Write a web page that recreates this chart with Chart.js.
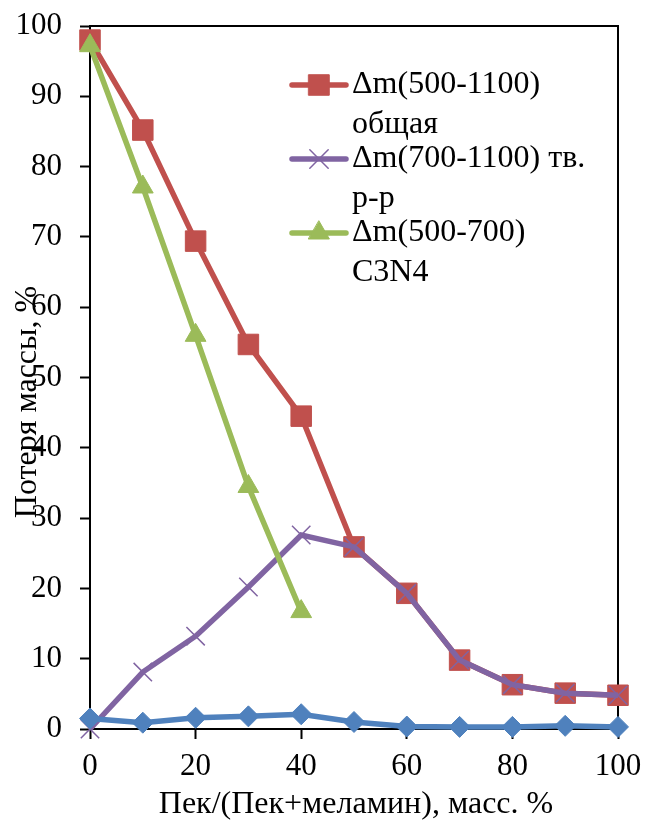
<!DOCTYPE html>
<html>
<head>
<meta charset="utf-8">
<script src="https://cdn.jsdelivr.net/npm/chart.js"></script>
<style>
  html, body { margin: 0; padding: 0; background: #fff; }
</style>
</head>
<body>
<canvas id="massChart" width="646" height="829"></canvas>
<script>
// pitch share in the pitch+melamine blend, mass %
const pitchShare = [0, 10, 20, 30, 40, 50, 60, 70, 80, 90, 100];
const totalLoss = [98, 85.2, 69.4, 54.7, 44.5, 25.9, 19.3, 9.8, 6.3, 5.1, 4.8];
const solidLoss = [0, 8.1, 13.2, 20.2, 27.6, 25.9, 19.3, 9.8, 6.3, 5.1, 4.8];
const c3n4Loss = [97.2, 77.1, 56, 34.5, 16.7];
const lowLoss = [1.5, 0.9, 1.6, 1.8, 2.1, 1.0, 0.35, 0.3, 0.3, 0.45, 0.3];

const seriesLabels = [
  ["Δm(500-1100)", "общая"],
  ["Δm(700-1100) тв.", "р-р"],
  ["Δm(500-700)", "C3N4"],
];
const xTitle = "Пек/(Пек+меламин), масс. %";
const yTitle = "Потеря массы, %";

const serif = "'Liberation Serif', 'Times New Roman', serif";
const toPoints = (vals) => vals.map((v, i) => ({ x: pitchShare[i], y: v }));

const datasets = [
  {
    label: seriesLabels[0].join(" "),
    data: toPoints(totalLoss),
    borderColor: "#C0504D",
    backgroundColor: "#C0504D",
    pointStyle: "rect",
    pointRadius: 14.5,
    pointBorderWidth: 1,
    order: 4,
  },
  {
    label: seriesLabels[1].join(" "),
    data: toPoints(solidLoss),
    borderColor: "#8064A2",
    backgroundColor: "#8064A2",
    pointStyle: "crossRot",
    pointRadius: 13,
    pointBorderWidth: 1.5,
    order: 3,
  },
  {
    label: seriesLabels[2].join(" "),
    data: toPoints(c3n4Loss),
    borderColor: "#9BBB59",
    backgroundColor: "#9BBB59",
    pointStyle: "triangle",
    pointRadius: 12,
    pointBorderWidth: 1,
    order: 2,
  },
  {
    label: "",
    data: toPoints(lowLoss),
    borderColor: "#4F81BD",
    backgroundColor: "#4F81BD",
    pointStyle: "rectRot",
    pointRadius: 10.5,
    pointBorderWidth: 1,
    order: 1,
  },
];
datasets.forEach((d) => {
  d.borderWidth = 5.5;
  d.tension = 0;
  d.clip = false;
  d.fill = false;
});

// top/right frame, axis titles and the in-plot legend
const decorations = {
  id: "decorations",
  beforeDatasetsDraw(chart) {
    const { ctx, chartArea: a } = chart;
    ctx.save();
    ctx.strokeStyle = "#000";
    ctx.lineWidth = 2;
    ctx.beginPath();
    ctx.moveTo(a.left, a.top);
    ctx.lineTo(a.right, a.top);
    ctx.lineTo(a.right, a.bottom);
    ctx.stroke();
    ctx.restore();
  },
  afterDraw(chart) {
    const { ctx } = chart;
    ctx.save();
    ctx.fillStyle = "#000";
    ctx.font = "32px " + serif;
    ctx.textAlign = "center";
    ctx.textBaseline = "middle";
    ctx.fillText(xTitle, 356, 805);

    ctx.save();
    ctx.translate(28, 402);
    ctx.rotate(-Math.PI / 2);
    ctx.fillText(yTitle, 0, 0);
    ctx.restore();

    // legend entries
    const lx0 = 292, lx1 = 346, tx = 352;
    const rowY = [85, 159, 233];
    const lineGap = 40;
    seriesLabels.forEach((lines, i) => {
      const ds = datasets[i];
      const y = rowY[i];
      ctx.strokeStyle = ds.borderColor;
      ctx.lineWidth = ds.borderWidth;
      ctx.lineCap = "round";
      ctx.beginPath();
      ctx.moveTo(lx0, y);
      ctx.lineTo(lx1, y);
      ctx.stroke();
      ctx.fillStyle = ds.backgroundColor;
      ctx.lineWidth = ds.pointBorderWidth;
      Chart.helpers.drawPoint(ctx, {
        pointStyle: ds.pointStyle,
        radius: ds.pointRadius,
        borderWidth: ds.pointBorderWidth,
        rotation: 0,
      }, (lx0 + lx1) / 2, y);
      ctx.fillStyle = "#000";
      ctx.textAlign = "left";
      lines.forEach((t, k) => ctx.fillText(t, tx, y + k * lineGap));
    });
    ctx.restore();
  },
};

const tickFont = { family: serif, size: 31 };

// fixed axis sizes; edge-label padding is dropped so the plot box stays put
const fixX = (s) => { s.height = 100; s.paddingLeft = 0; s.paddingRight = 0; };
const fixY = (s) => { s.width = 90; s.paddingTop = 0; s.paddingBottom = 0; };

new Chart(document.getElementById("massChart"), {
  type: "line",
  data: { datasets },
  options: {
    responsive: false,
    animation: false,
    events: [],
    layout: { padding: { top: 26, right: 28, left: 0, bottom: 0 } },
    plugins: { legend: { display: false }, tooltip: { enabled: false } },
    scales: {
      x: {
        type: "linear",
        min: 0,
        max: 100,
        afterFit: fixX,
        ticks: { stepSize: 20, font: tickFont, color: "#000", padding: 9, maxRotation: 0 },
        grid: { drawOnChartArea: false, tickLength: 10, tickColor: "#000", tickWidth: 2 },
        border: { color: "#000", width: 2 },
      },
      y: {
        min: 0,
        max: 100,
        afterFit: fixY,
        ticks: { stepSize: 10, font: tickFont, color: "#000", padding: 18 },
        grid: { drawOnChartArea: false, tickLength: 10, tickColor: "#000", tickWidth: 2 },
        border: { color: "#000", width: 2 },
      },
    },
  },
  plugins: [decorations],
});
</script>
</body>
</html>
